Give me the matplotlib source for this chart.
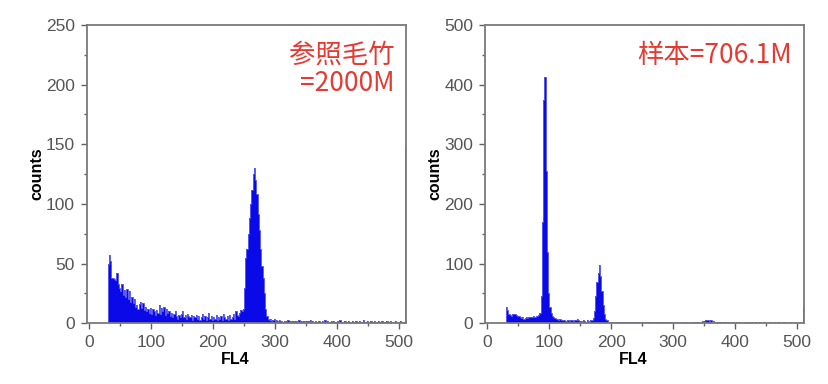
import numpy as np
import matplotlib
matplotlib.use('Agg')
import matplotlib.pyplot as plt
from matplotlib.ticker import MultipleLocator

plt.rcParams['font.family'] = ['Liberation Sans', 'Noto Sans CJK SC', 'DejaVu Sans']

# FL4 channels, bins of 2 starting at 30 (last bin = overflow channel)
fl4_start = 30
bin_width = 2

# reference (参照毛竹) counts
ref_counts = [
    50, 57, 52, 38, 38, 37, 36, 42, 33, 30,
    27, 33, 24, 28, 22, 29, 20, 27, 18, 22,
    17, 20, 14, 15, 12, 16, 18, 13, 17, 11,
    14, 10, 12, 9, 13, 8, 12, 10, 7, 11,
    9, 15, 8, 13, 10, 14, 7, 12, 9, 10,
    6, 9, 5, 8, 10, 6, 4, 7, 5, 8,
    10, 5, 7, 4, 8, 6, 5, 7, 3, 6,
    5, 7, 4, 6, 3, 5, 8, 4, 6, 3,
    5, 9, 4, 6, 3, 5, 4, 7, 3, 5,
    4, 6, 3, 8, 5, 4, 6, 3, 7, 4,
    5, 8, 4, 10, 7, 6, 9, 11, 10, 12,
    30, 55, 62, 75, 88, 100, 112, 125, 130, 120,
    108, 92, 78, 62, 48, 38, 25, 12, 6, 4,
    3, 4, 2, 3, 4, 2, 3, 2, 3, 2,
    2, 1, 2, 1, 2, 3, 1, 2, 1, 2,
    1, 2, 2, 1, 3, 1, 2, 1, 2, 1,
    2, 1, 2, 3, 1, 2, 1, 2, 1, 1,
    2, 1, 1, 2, 1, 3, 1, 2, 1, 1,
    2, 1, 2, 1, 1, 2, 1, 3, 1, 1,
    1, 2, 1, 1, 2, 1, 1, 2, 1, 1,
    2, 1, 1, 2, 1, 1, 3, 1, 1, 2,
    1, 1, 2, 1, 1, 2, 1, 1, 2, 1,
    1, 2, 1, 1, 1, 2, 1, 1, 2, 1,
    1, 1, 2, 1, 1, 1, 2, 1, 1, 1,
    148,
]

# sample (样本) counts
sample_counts = [
    28, 22, 15, 14, 13, 15, 16, 15, 14, 13,
    12, 10, 9, 10, 8, 9, 10, 9, 10, 11,
    10, 11, 12, 11, 12, 13, 14, 18, 45, 170,
    375, 412, 255, 120, 50, 28, 18, 12, 10, 9,
    8, 7, 6, 7, 5, 6, 5, 6, 4, 5,
    5, 4, 5, 6, 4, 5, 6, 7, 5, 4,
    4, 3, 5, 4, 3, 6, 4, 3, 5, 6,
    9, 20, 45, 70, 85, 97, 80, 55, 30, 15,
    8, 5, 3, 2, 2, 3, 2, 2, 3, 2,
    2, 2, 3, 2, 2, 1, 2, 2, 3, 2,
    2, 3, 2, 2, 3, 2, 2, 3, 2, 2,
    2, 2, 1, 2, 2, 2, 1, 2, 2, 1,
    2, 1, 2, 2, 1, 2, 1, 2, 1, 2,
    1, 2, 1, 2, 1, 1, 2, 1, 2, 1,
    1, 2, 1, 1, 2, 1, 2, 1, 1, 2,
    1, 2, 1, 2, 2, 3, 2, 3, 4, 3,
    4, 5, 6, 5, 4, 5, 3, 4, 3, 2,
    3, 2, 2, 3, 2, 1, 2, 2, 1, 2,
    1, 2, 1, 2, 1, 1, 2, 1, 2, 1,
    1, 1, 2, 1, 1, 2, 1, 1, 2, 1,
    1, 2, 1, 1, 2, 1, 1, 1, 2, 1,
    1, 1, 2, 1, 1, 1, 2, 1, 1, 1,
    2, 1, 1, 1, 2, 1, 1, 1, 1, 2,
    1, 1, 1, 2, 1, 1, 1, 1, 1, 1,
    28,
]

panels = [
    (ref_counts, 250, 50, '参照毛竹\n=2000M'),
    (sample_counts, 500, 100, '样本=706.1M'),
]

fig = plt.figure(figsize=(8.29, 3.84), dpi=100)
ax_pos = [[0.1046, 0.158, 0.3854, 0.777], [0.585, 0.158, 0.3854, 0.777]]

for (counts, ymax, ystep, note), pos in zip(panels, ax_pos):
    ax = fig.add_axes(pos)
    edges = fl4_start + bin_width * np.arange(len(counts) + 1)
    ax.bar(edges[:-1], counts, width=bin_width, align='edge', color='#0a0ae8', linewidth=0)
    ax.stairs(counts, edges, color='#5a5af2', linewidth=0.7)
    ax.set_xlim(-4, 512)
    ax.set_ylim(0, ymax)
    ax.xaxis.set_major_locator(MultipleLocator(100))
    ax.xaxis.set_minor_locator(MultipleLocator(50))
    ax.yaxis.set_major_locator(MultipleLocator(ystep))
    ax.yaxis.set_minor_locator(MultipleLocator(ystep / 2))
    ax.tick_params(which='major', direction='out', length=4.5, width=1, color='#606060',
                   labelsize=12.5, labelcolor='#555555', pad=4)
    ax.tick_params(which='minor', direction='out', length=2, width=1, color='#606060')
    for s in ax.spines.values():
        s.set_color('#7a7a7a')
        s.set_linewidth(1.3)
    ax.set_xlabel('FL4', fontsize=11.5, fontweight='bold')
    ax.xaxis.set_label_coords(0.465, -0.095)
    ax.set_ylabel('counts', fontsize=11.5, fontweight='bold', labelpad=1)
    ax.text(0.962, 0.943, note, transform=ax.transAxes, ha='right', va='top',
            fontsize=19, color='#e53a32', family=['Noto Sans CJK SC'], linespacing=1.05)

fig.savefig('out.png', dpi=100)
